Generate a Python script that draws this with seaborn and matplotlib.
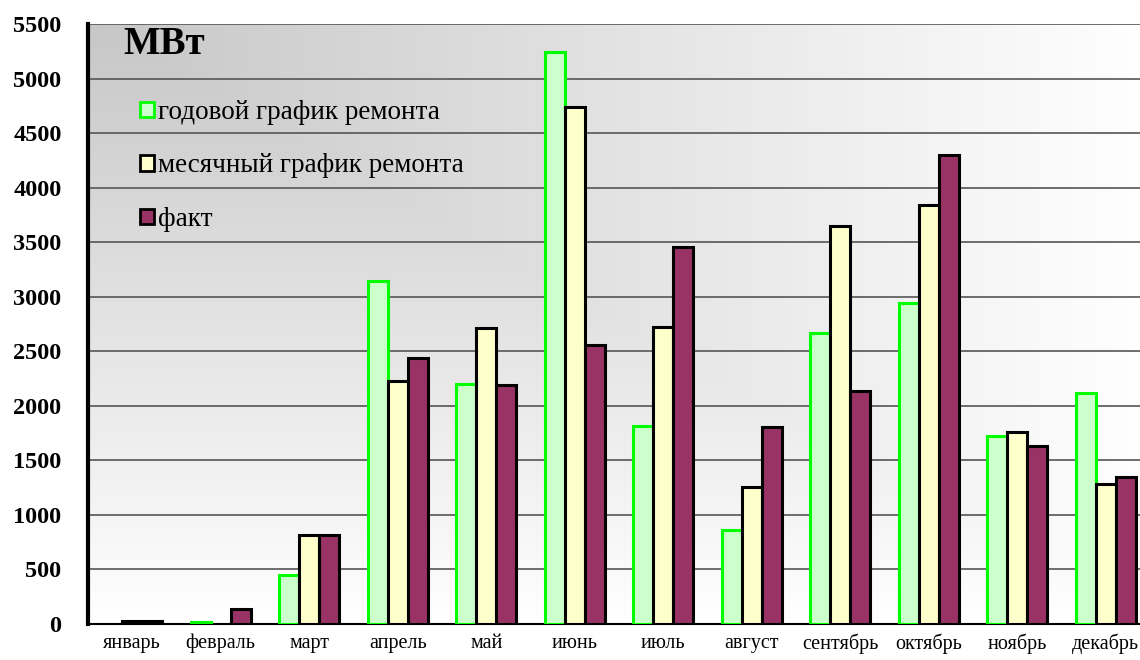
import numpy as np
import pandas as pd
import matplotlib
matplotlib.use("Agg")
import matplotlib.pyplot as plt
from matplotlib.patches import Patch
import seaborn as sns

# Monthly repair capacity, MW
months = ["январь", "февраль", "март", "апрель", "май", "июнь",
          "июль", "август", "сентябрь", "октябрь", "ноябрь", "декабрь"]
annual_plan = [np.nan, 15, 450, 3140, 2200, 5245, 1815, 860, 2670, 2945, 1720, 2120]
monthly_plan = [25, np.nan, 820, 2230, 2715, 4735, 2720, 1255, 3650, 3845, 1760, 1280]
actual = [25, 140, 820, 2435, 2195, 2560, 3460, 1810, 2135, 4300, 1630, 1350]

series_names = ["годовой график ремонта", "месячный график ремонта", "факт"]
y_ticks = list(range(0, 5501, 500))

fills = ["#ccffcc", "#ffffcc", "#993366"]
edges = ["#00ff00", "#000000", "#000000"]

df = pd.DataFrame({
    "month": months * 3,
    "value": annual_plan + monthly_plan + actual,
    "series": [series_names[0]] * 12 + [series_names[1]] * 12 + [series_names[2]] * 12,
})

sns.set_style("white")
plt.rcParams["font.family"] = ["Liberation Serif", "DejaVu Serif"]
plt.rcParams["text.color"] = "black"
plt.rcParams["xtick.color"] = "black"
plt.rcParams["ytick.color"] = "black"
plt.rcParams["axes.labelcolor"] = "black"

fig = plt.figure(figsize=(11.4, 6.6), dpi=100)
ax = fig.add_axes([88 / 1140, 36 / 660, 1062 / 1140, 600 / 660])

# corner gradient background: grey at the top-left, white towards the bottom and right
nx, ny = 400, 300
xs = np.linspace(0, 1, nx)
ys = np.linspace(0, 1, ny)
X, Y = np.meshgrid(xs, ys)
t = np.maximum(X, Y)
shade = 0.78 + 0.22 * t
img = np.dstack([shade, shade, shade])
ax.imshow(img, extent=[0, 1, 0, 1], transform=ax.transAxes, aspect="auto",
          origin="upper", zorder=0, interpolation="bilinear")

sns.barplot(data=df, x="month", y="value", hue="series", order=months,
            hue_order=series_names, palette=fills, width=0.68, dodge=True,
            saturation=1, errorbar=None, ax=ax, zorder=3)

for cont, ec in zip(ax.containers, edges):
    for bar in cont:
        bar.set_edgecolor(ec)
        bar.set_linewidth(2.2)
        bar.set_zorder(3)

ax.set_xlim(-0.5, 11.5)
ax.set_ylim(0, 5500)
ax.set_yticks(y_ticks)
ax.set_yticklabels([str(v) for v in y_ticks], fontsize=17.5, fontweight="bold")
ax.tick_params(axis="y", length=0, pad=19)
ax.tick_params(axis="x", which="major", length=0, pad=7, labelsize=14.5)
ax.set_xticks(np.arange(0.5, 11.5, 1), minor=True)
ax.tick_params(axis="x", which="minor", direction="in", length=6, width=1.2, color="#777777")
ax.set_xlabel("")
ax.set_ylabel("")

ax.yaxis.grid(True, color="#555555", linewidth=1.2, zorder=1)
ax.set_axisbelow(True)

for side in ["top", "right"]:
    ax.spines[side].set_visible(False)
ax.spines["left"].set_linewidth(3)
ax.spines["left"].set_color("black")
ax.spines["bottom"].set_linewidth(1.5)
ax.spines["bottom"].set_color("black")

leg = ax.get_legend()
if leg is not None:
    leg.remove()
handles = [Patch(facecolor=f, edgecolor=e, linewidth=2.0) for f, e in zip(fills, edges)]
ax.legend(handles, series_names, loc="upper left",
          bbox_to_anchor=(140 / 1140, 1 - 100 / 660), bbox_transform=fig.transFigure,
          frameon=False, fontsize=19.5, handlelength=0.5, handleheight=0.5,
          handletextpad=0.18, labelspacing=1.05, borderpad=0, borderaxespad=0)

fig.text(123 / 1140, 1 - 44 / 660, "МВт", fontsize=28, fontweight="bold",
         ha="left", va="center")

fig.savefig("out.png", dpi=100)
